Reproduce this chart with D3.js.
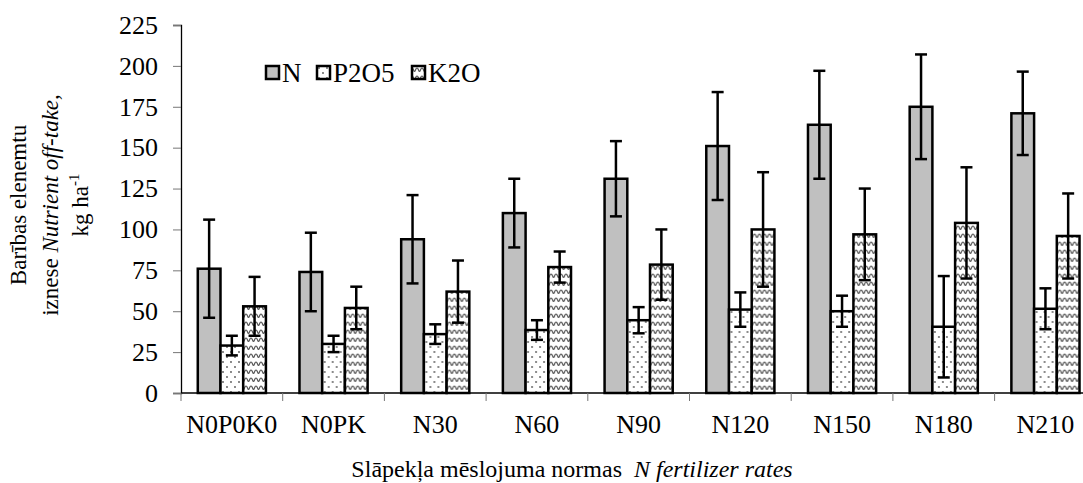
<!DOCTYPE html>
<html>
<head>
<meta charset="utf-8">
<script src="https://cdn.jsdelivr.net/npm/d3@7"></script>
<style>
  body { margin: 0; background: #fff; }
</style>
</head>
<body>
<div id="chart"></div>
<script>
// rates on the x axis
var categories = ["N0P0K0", "N0PK", "N30", "N60", "N90", "N120", "N150", "N180", "N210"];
var seriesNames = ["N", "P2O5", "K2O"];

// mean off-take, kg/ha
var nValues   = [76, 74, 94, 110, 131, 151, 164, 175, 171];
var pValues   = [29, 30, 36, 38.5, 44.5, 51, 50, 40.5, 51.5];
var kValues   = [53, 52, 62, 77, 78.5, 100, 97, 104, 96];

// error bar half-widths
var nErrors   = [30, 24, 27, 21, 23, 33, 33, 32, 25.5];
var pErrors   = [6, 5, 6, 6, 8, 10.5, 9.5, 31, 12.5];
var kErrors   = [18, 13, 19, 9.5, 21.5, 35, 28, 34, 26];

var yTicks = [0, 25, 50, 75, 100, 125, 150, 175, 200, 225];

var W = 1083, H = 483;
var SERIF = "'Liberation Serif', 'Times New Roman', serif";
var margin = { top: 25, left: 181, bottom: 90 };
var plotH = H - margin.top - margin.bottom; // 368
var groupW = 101.7;

var svg = d3.select("#chart").append("svg")
  .attr("width", W)
  .attr("height", H);

var defs = svg.append("defs");

// dotted fill for P2O5
var dots = defs.append("pattern")
  .attr("id", "dots")
  .attr("patternUnits", "userSpaceOnUse")
  .attr("width", 8).attr("height", 10);
dots.append("rect").attr("width", 8).attr("height", 10).attr("fill", "#fff");
dots.append("circle").attr("cx", 2).attr("cy", 2).attr("r", 0.9).attr("fill", "#555");
dots.append("circle").attr("cx", 6).attr("cy", 7).attr("r", 0.9).attr("fill", "#555");

// wavy fill for K2O
var wave = defs.append("pattern")
  .attr("id", "wave")
  .attr("patternUnits", "userSpaceOnUse")
  .attr("width", 10).attr("height", 8);
wave.append("rect").attr("width", 10).attr("height", 8).attr("fill", "#fff");
wave.append("path")
  .attr("d", "M0,2 C1.5,2 1.5,5.5 2.5,5.5 C3.5,5.5 3.5,2 5,2 C6.5,2 6.5,5.5 7.5,5.5 C8.5,5.5 8.5,2 10,2")
  .attr("fill", "none")
  .attr("stroke", "#555")
  .attr("stroke-width", 1.2);

var fills = { "N": "#c0c0c0", "P2O5": "url(#dots)", "K2O": "url(#wave)" };

var data = categories.map(function (c, i) {
  return {
    cat: c,
    vals: [
      { key: "N", v: nValues[i], e: nErrors[i] },
      { key: "P2O5", v: pValues[i], e: pErrors[i] },
      { key: "K2O", v: kValues[i], e: kErrors[i] }
    ]
  };
});

var x0 = d3.scaleBand()
  .domain(categories)
  .range([margin.left, margin.left + groupW * categories.length])
  .padding(0);

var x1 = d3.scaleBand()
  .domain(seriesNames)
  .range([groupW * 0.165, groupW * 0.835]);

var y = d3.scaleLinear()
  .domain([0, 225])
  .range([margin.top + plotH, margin.top]);

// y axis
var yAxis = svg.append("g")
  .attr("transform", "translate(" + margin.left + ",0)")
  .call(d3.axisLeft(y).tickValues(yTicks).tickSize(8).tickPadding(15));
yAxis.select(".domain").attr("stroke", "#000").attr("stroke-width", 1.3);
yAxis.selectAll(".tick line").attr("stroke", "#777");
yAxis.selectAll(".tick text")
  .style("font-family", SERIF)
  .style("font-size", "26px")
  .attr("fill", "#000");

// x axis line and ticks between groups
var xg = svg.append("g").attr("class", "xaxis");
xg.append("line")
  .attr("x1", margin.left).attr("x2", W)
  .attr("y1", y(0)).attr("y2", y(0))
  .attr("stroke", "#000").attr("stroke-width", 1.3);
xg.selectAll("line.tk")
  .data(categories.concat(["end"]))
  .enter().append("line")
  .attr("class", "tk")
  .attr("x1", function (d, i) { return margin.left + i * x0.bandwidth(); })
  .attr("x2", function (d, i) { return margin.left + i * x0.bandwidth(); })
  .attr("y1", y(0)).attr("y2", y(0) + 8)
  .attr("stroke", "#777");
xg.selectAll("text")
  .data(categories)
  .enter().append("text")
  .attr("x", function (d) { return x0(d) + x0.bandwidth() / 2; })
  .attr("y", y(0) + 40)
  .attr("text-anchor", "middle")
  .style("font-family", SERIF)
  .style("font-size", "26px")
  .text(function (d) { return d; });

// bars
var groups = svg.selectAll("g.grp")
  .data(data)
  .enter().append("g")
  .attr("class", "grp")
  .attr("transform", function (d) { return "translate(" + x0(d.cat) + ",0)"; });

groups.selectAll("rect")
  .data(function (d) { return d.vals; })
  .enter().append("rect")
  .attr("x", function (d) { return x1(d.key); })
  .attr("y", function (d) { return y(d.v); })
  .attr("width", x1.bandwidth())
  .attr("height", function (d) { return y(0) - y(d.v); })
  .attr("fill", function (d) { return fills[d.key]; })
  .attr("stroke", "#000")
  .attr("stroke-width", 2.5);

// error bars
var eb = groups.selectAll("g.err")
  .data(function (d) { return d.vals; })
  .enter().append("g")
  .attr("class", "err")
  .attr("stroke", "#000")
  .attr("stroke-width", 2.5);
eb.append("line")
  .attr("x1", function (d) { return x1(d.key) + x1.bandwidth() / 2; })
  .attr("x2", function (d) { return x1(d.key) + x1.bandwidth() / 2; })
  .attr("y1", function (d) { return y(d.v + d.e); })
  .attr("y2", function (d) { return y(Math.max(0, d.v - d.e)); });
eb.append("line")
  .attr("x1", function (d) { return x1(d.key) + x1.bandwidth() / 2 - 6; })
  .attr("x2", function (d) { return x1(d.key) + x1.bandwidth() / 2 + 6; })
  .attr("y1", function (d) { return y(d.v + d.e); })
  .attr("y2", function (d) { return y(d.v + d.e); });
eb.append("line")
  .attr("x1", function (d) { return x1(d.key) + x1.bandwidth() / 2 - 6; })
  .attr("x2", function (d) { return x1(d.key) + x1.bandwidth() / 2 + 6; })
  .attr("y1", function (d) { return y(Math.max(0, d.v - d.e)); })
  .attr("y2", function (d) { return y(Math.max(0, d.v - d.e)); });

// legend
var legendX = [266, 317, 412];
var leg = svg.selectAll("g.leg")
  .data(seriesNames)
  .enter().append("g")
  .attr("class", "leg")
  .attr("transform", function (d, i) { return "translate(" + legendX[i] + ",66)"; });
leg.append("rect")
  .attr("width", 13).attr("height", 13)
  .attr("fill", function (d) { return fills[d]; })
  .attr("stroke", "#000")
  .attr("stroke-width", 2.5);
leg.append("text")
  .attr("x", 16).attr("y", 16)
  .style("font-family", SERIF)
  .style("font-size", "27px")
  .text(function (d) { return d; });

// axis titles
var xt = svg.append("text")
  .attr("x", 572).attr("y", 477)
  .attr("text-anchor", "middle")
  .style("font-family", SERIF)
  .style("font-size", "24px")
  .style("white-space", "pre");
xt.append("tspan").text("Slāpekļa mēslojuma normas  ");
xt.append("tspan").style("font-style", "italic").text("N fertilizer rates");

var yt = svg.append("text")
  .attr("transform", "translate(0,205) rotate(-90)")
  .attr("text-anchor", "middle")
  .style("font-family", SERIF)
  .style("font-size", "23px");
yt.append("tspan").attr("x", 0).attr("y", 26).text("Barības elenemtu");
var l2 = yt.append("tspan").attr("x", 0).attr("y", 58);
l2.append("tspan").text("iznese ");
l2.append("tspan").style("font-style", "italic").text("Nutrient off-take,");
var l3 = yt.append("tspan").attr("x", 0).attr("y", 88);
l3.append("tspan").text("kg ha");
l3.append("tspan").attr("dy", -9).style("font-size", "15px").text("-1");
</script>
</body>
</html>
